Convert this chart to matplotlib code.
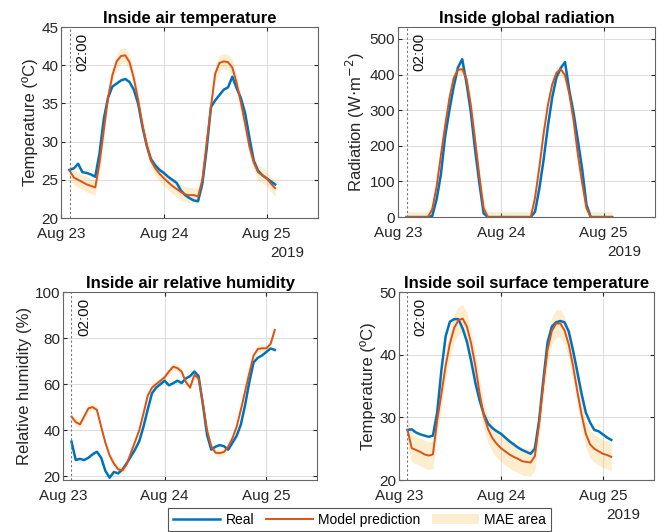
import matplotlib
matplotlib.use('Agg')
import matplotlib.pyplot as plt
import matplotlib.dates as mdates
from matplotlib.patches import Patch
from matplotlib.lines import Line2D
import numpy as np
import pandas as pd

plt.rcParams['font.family'] = ['Liberation Sans', 'DejaVu Sans']

# hourly values from Aug 23 02:00 to Aug 25 02:00
temp_real = [26.3, 26.5, 27.1, 26.0, 25.9, 25.7, 25.4, 28.5, 33.0, 35.8,
             37.2, 37.6, 38.0, 38.2, 37.8, 36.8, 35.0, 32.0, 29.5, 27.7,
             26.9, 26.3, 25.9, 25.4, 25.0, 24.6, 23.6, 23.0, 22.6, 22.3,
             22.2, 24.5, 29.0, 34.5, 35.4, 36.1, 36.8, 37.1, 38.5, 37.0,
             35.7, 33.7, 30.5, 27.5, 26.2, 25.6, 25.2, 24.8, 24.4]
temp_model = [26.2, 25.3, 25.0, 24.7, 24.4, 24.2, 24.0, 27.2, 31.5, 35.8,
              38.7, 40.5, 41.2, 41.3, 40.4, 38.3, 35.5, 32.2, 29.6, 27.5,
              26.5, 25.8, 25.2, 24.7, 24.2, 23.8, 23.4, 23.1, 23.0, 23.0,
              22.8, 25.0, 29.8, 34.5, 38.9, 40.3, 40.5, 40.4, 39.7, 37.7,
              35.1, 32.3, 29.3, 27.3, 26.0, 25.6, 25.2, 24.5, 23.9]

rad_real = [0, 0, 0, 0, 0, 0, 3, 49, 118, 225,
            300, 365, 420, 443, 376, 295, 189, 95, 10, 0,
            0, 0, 0, 0, 0, 0, 0, 0, 0, 0,
            15, 80, 161, 255, 335, 392, 418, 435, 355, 292,
            215, 135, 35, 0, 0, 0, 0, 0, 0]
rad_model = [0, 0, 0, 0, 0, 0, 22, 85, 172, 256,
             333, 390, 413, 415, 388, 315, 217, 115, 25, 0,
             0, 0, 0, 0, 0, 0, 0, 0, 0, 0,
             55, 140, 235, 315, 372, 405, 415, 398, 345, 270,
             175, 95, 25, 0, 0, 0, 0, 0, 0]

rh_real = [35, 27, 27.5, 27, 28, 29.5, 30.6, 28, 22.3, 19.3,
           21.8, 21.2, 22.8, 25.5, 28.5, 31.5, 35.2, 41.5, 49, 56,
           58.5, 60, 61.5, 59.5, 60.4, 61.5, 60.5, 62.5, 63.5, 65.5,
           63.5, 51.5, 38, 31.5, 32.8, 33.5, 33, 31.5, 34.5, 37.5,
           42.5, 51, 61, 69.5, 71.5, 72.5, 74, 75.5, 74.9]
rh_model = [45.9, 43.5, 42.5, 46, 49.5, 50, 48.8, 41.5, 34.5, 29,
            25.5, 23, 22.5, 25, 30, 35, 40, 47.3, 55, 58.5,
            60, 61.5, 63, 65.5, 67.6, 67, 65.5, 61, 58.5, 64,
            62.5, 52, 40, 33, 30.2, 30, 30.5, 32.8, 36.5, 41.5,
            49, 57, 65, 72.5, 75.3, 75.6, 75.6, 77.5, 83.6]

soil_real = [28, 28.1, 27.6, 27.3, 27.1, 26.9, 27.1, 30.8, 37.6, 43,
             45.3, 45.7, 45.7, 44.2, 42.1, 39, 35.5, 32.7, 30.5, 29.0,
             28.3, 27.8, 27.4, 26.8, 26.2, 25.7, 25.2, 24.8, 24.5, 24.2,
             25, 29.5, 36, 42, 44.5, 45.2, 45.4, 45.2, 43.7, 40.7,
             37.3, 33.8, 30.8, 29.2, 28.0, 27.8, 27.3, 26.8, 26.4]
soil_model = [28, 25.1, 24.8, 24.5, 24.1, 23.9, 24.1, 29.5, 33.8, 38.3,
              41.8, 44.3, 45.5, 45.8, 44.5, 41.8, 38.2, 33.8, 30.2, 28.1,
              26.7, 25.8, 25.1, 24.6, 24.1, 23.7, 23.4, 23, 22.9, 22.8,
              23.8, 29, 35.3, 40.8, 43.8, 45, 45, 43.9, 41.6, 38.2,
              34.2, 30.5, 27.4, 25.7, 25.0, 24.6, 24.2, 24, 23.7]

# mean absolute error of each model
mae = [1.0, 15, 1.5, 2.2]

titles = ['Inside air temperature', 'Inside global radiation',
          'Inside air relative humidity', 'Inside soil surface temperature']
ylabels = ['Temperature (ºC)', 'Radiation (W$\\cdot$m$^{-2}$)',
           'Relative humidity (%)', 'Temperature (ºC)']
ylims = [(20, 45), (0, 533), (18.3, 100), (20, 50)]
yticks = [np.arange(20, 46, 5), np.arange(0, 501, 100),
          np.arange(20, 101, 20), np.arange(20, 51, 10)]

real = [temp_real, rad_real, rh_real, soil_real]
model = [temp_model, rad_model, rh_model, soil_model]

t = pd.date_range('2019-08-23 02:00', periods=len(temp_real), freq='h')
t0 = pd.Timestamp('2019-08-23 02:00')

blue = '#0072BD'
orange = '#D95319'
band = (0.929, 0.694, 0.125)

fig = plt.figure(figsize=(6.6, 5.32), dpi=100)
pos = [[0.0924, 0.5902, 0.3894, 0.359],
       [0.603, 0.592, 0.3894, 0.357],
       [0.0955, 0.0977, 0.385, 0.353],
       [0.6045, 0.0977, 0.386, 0.353]]

for i in range(4):
    ax = fig.add_axes(pos[i])
    r = np.array(real[i], dtype=float)
    m = np.array(model[i], dtype=float)
    ax.fill_between(t, m - mae[i], m + mae[i], color=band, alpha=0.22, lw=0)
    ax.plot(t, r, color=blue, lw=1.8)
    ax.plot(t, m, color=orange, lw=1.4)
    ax.axvline(t0, color='#777777', ls=(0, (2, 2)), lw=0.8)
    ax.annotate('02:00', xy=(t0, 1), xycoords=('data', 'axes fraction'),
                xytext=(4, -4), textcoords='offset points', rotation=90,
                ha='left', va='top', fontsize=11, color='#111111')

    ax.set_xlim(pd.Timestamp('2019-08-23 00:00'), pd.Timestamp('2019-08-25 12:00'))
    ax.xaxis.set_major_locator(mdates.DayLocator())
    ax.xaxis.set_major_formatter(mdates.DateFormatter('%b %d'))
    ax.set_ylim(ylims[i])
    ax.set_yticks(yticks[i])
    ax.grid(True, color='#dcdcdc', lw=0.7)
    ax.set_axisbelow(True)
    ax.tick_params(direction='in', length=3, labelsize=11, colors='#262626',
                   top=True, right=True)
    ax.tick_params(axis='x', pad=6.5)
    ax.tick_params(axis='y', pad=2)
    for s in ax.spines.values():
        s.set_color('#666666')
        s.set_linewidth(0.8)
    ax.set_title(titles[i], fontsize=12, fontweight='bold', pad=3)
    ax.set_ylabel(ylabels[i], fontsize=12, color='#262626', labelpad=2)
    ax.text(0.946, -0.185, '2019', transform=ax.transAxes, ha='right',
            va='center', fontsize=11, color='#262626')

handles = [Line2D([], [], color=blue, lw=1.8),
           Line2D([], [], color=orange, lw=1.4),
           Patch(facecolor=band, alpha=0.22, edgecolor='none')]
leg = fig.legend(handles, ['Real', 'Model prediction', 'MAE area'],
                 loc='lower center', bbox_to_anchor=(0.545, -0.012), ncol=3,
                 fontsize=10, frameon=True, fancybox=False, handlelength=3.4,
                 columnspacing=0.8, borderpad=0.35, handletextpad=0.4)
leg.get_frame().set_edgecolor('#555555')
leg.get_frame().set_linewidth(0.8)
leg.get_frame().set_alpha(1)

fig.savefig('out.png', dpi=100)
